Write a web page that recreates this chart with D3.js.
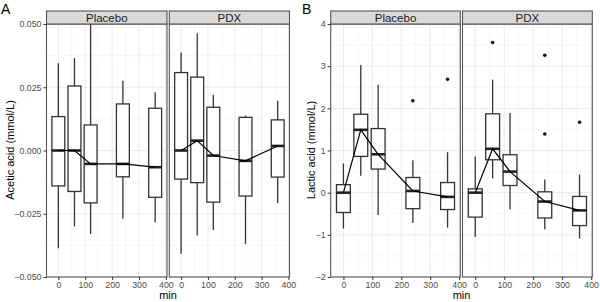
<!DOCTYPE html>
<html><head><meta charset="utf-8">
<script src="https://cdn.jsdelivr.net/npm/d3@7/dist/d3.min.js"></script>
<style>body{margin:0;background:#fff}svg{display:block;font-family:"Liberation Sans",Arial,sans-serif}</style>
</head><body><svg id="c" width="600" height="302"></svg>
<script>
const times = [0, 60, 120, 240, 360];
const groups = ["Placebo", "PDX"];
const xTicks = [0, 100, 200, 300, 400];

// Acetic acid
const aceticPlaceboLow  = [-0.0386, -0.030, -0.033, -0.027, -0.0285];
const aceticPlaceboQ1   = [-0.014, -0.0162, -0.0207, -0.0104, -0.0185];
const aceticPlaceboMed  = [0, 0, -0.0053, -0.0053, -0.0066];
const aceticPlaceboQ3   = [0.0134, 0.0255, 0.0101, 0.0184, 0.0167];
const aceticPlaceboHigh = [0.0345, 0.0365, 0.050, 0.0276, 0.023];
const aceticPdxLow  = [-0.0408, -0.0336, -0.0314, -0.037, -0.0208];
const aceticPdxQ1   = [-0.0113, -0.0127, -0.0204, -0.018, -0.0105];
const aceticPdxMed  = [0, 0.0039, -0.002, -0.0041, 0.0018];
const aceticPdxQ3   = [0.0308, 0.029, 0.0171, 0.0131, 0.0121];
const aceticPdxHigh = [0.0387, 0.0463, 0.022, 0.0138, 0.0197];
const aceticYTicks = [-0.050, -0.025, 0.000, 0.025, 0.050];

// Lactic acid
const lacticPlaceboLow  = [-0.85, 0.40, -0.53, -0.72, -0.83];
const lacticPlaceboQ1   = [-0.47, 0.86, 0.56, -0.38, -0.40];
const lacticPlaceboMed  = [0, 1.49, 0.91, 0.04, -0.10];
const lacticPlaceboQ3   = [0.19, 1.86, 1.52, 0.36, 0.24];
const lacticPlaceboHigh = [0.69, 3.03, 2.56, 0.77, 0.96];
const lacticPlaceboOutT = [240, 360];
const lacticPlaceboOutV = [2.18, 2.69];
const lacticPdxLow  = [-1.05, 0.34, -0.40, -0.87, -1.09];
const lacticPdxQ1   = [-0.58, 0.78, 0.17, -0.60, -0.78];
const lacticPdxMed  = [0, 1.04, 0.50, -0.21, -0.42];
const lacticPdxQ3   = [0.09, 1.87, 0.90, 0.02, -0.09];
const lacticPdxHigh = [0.86, 2.68, 1.89, 0.31, 0.43];
const lacticPdxOutT = [60, 240, 240, 360];
const lacticPdxOutV = [3.56, 3.26, 1.39, 1.67];
const lacticYTicks = [-2, -1, 0, 1, 2, 3, 4];

function build(low, q1, med, q3, high, outT, outV) {
  return {
    boxes: times.map((t, i) => ({t, low: low[i], q1: q1[i], med: med[i], q3: q3[i], high: high[i]})),
    outliers: (outT || []).map((t, i) => ({t, v: outV[i]}))
  };
}

const svg = d3.select("#c");
const FONT = '"Liberation Sans",Arial,sans-serif';

function drawChart(cfg) {
  const y = d3.scaleLinear().domain(cfg.yDomain).range([277, 24]);
  const g = svg.append("g");
  cfg.facets.forEach((f, fi) => {
    const x = d3.scaleLinear().domain([-44, 404]).range([f.x0, f.x1]);
    const pg = g.append("g");
    pg.append("rect").attr("x", f.x0).attr("y", 24).attr("width", f.x1 - f.x0).attr("height", 253).attr("fill", "#fff");
    cfg.yMinor.forEach(v => pg.append("line").attr("x1", f.x0).attr("x2", f.x1).attr("y1", y(v)).attr("y2", y(v)).attr("stroke", "#f2f2f2").attr("stroke-width", 0.6));
    [50, 150, 250, 350].forEach(v => pg.append("line").attr("x1", x(v)).attr("x2", x(v)).attr("y1", 24).attr("y2", 277).attr("stroke", "#f2f2f2").attr("stroke-width", 0.6));
    cfg.yTicks.forEach(v => pg.append("line").attr("x1", f.x0).attr("x2", f.x1).attr("y1", y(v)).attr("y2", y(v)).attr("stroke", "#ebebeb").attr("stroke-width", 1));
    xTicks.forEach(v => pg.append("line").attr("x1", x(v)).attr("x2", x(v)).attr("y1", 24).attr("y2", 277).attr("stroke", "#ebebeb").attr("stroke-width", 1));

    const d = f.data;
    const bw = 48;
    const bx = pg.selectAll(".bx").data(d.boxes).enter().append("g");
    bx.append("line").attr("x1", b => x(b.t)).attr("x2", b => x(b.t)).attr("y1", b => y(b.high)).attr("y2", b => y(b.q3)).attr("stroke", "#333").attr("stroke-width", 1.3);
    bx.append("line").attr("x1", b => x(b.t)).attr("x2", b => x(b.t)).attr("y1", b => y(b.q1)).attr("y2", b => y(b.low)).attr("stroke", "#333").attr("stroke-width", 1.3);
    bx.append("rect").attr("x", b => x(b.t - bw / 2)).attr("width", b => x(b.t + bw / 2) - x(b.t - bw / 2))
      .attr("y", b => y(b.q3)).attr("height", b => y(b.q1) - y(b.q3))
      .attr("fill", "#fff").attr("stroke", "#333").attr("stroke-width", 1.3);
    bx.append("line").attr("x1", b => x(b.t - bw / 2)).attr("x2", b => x(b.t + bw / 2)).attr("y1", b => y(b.med)).attr("y2", b => y(b.med)).attr("stroke", "#222").attr("stroke-width", 2.6);
    pg.selectAll(".out").data(d.outliers).enter().append("circle").attr("cx", o => x(o.t)).attr("cy", o => y(o.v)).attr("r", 1.8).attr("fill", "#111");
    pg.append("path").datum(d.boxes).attr("d", d3.line().x(b => x(b.t)).y(b => y(b.med)))
      .attr("fill", "none").attr("stroke", "#000").attr("stroke-width", 1.2);
    pg.append("rect").attr("x", f.x0).attr("y", 24).attr("width", f.x1 - f.x0).attr("height", 253).attr("fill", "none").attr("stroke", "#555").attr("stroke-width", 1.1);
    pg.append("rect").attr("x", f.x0).attr("y", 11).attr("width", f.x1 - f.x0).attr("height", 13).attr("fill", "#d9d9d9").attr("stroke", "#555").attr("stroke-width", 1.1);
    pg.append("text").attr("x", (f.x0 + f.x1) / 2).attr("y", 21.8).attr("text-anchor", "middle").attr("font-size", 11.5).attr("fill", "#1a1a1a").text(groups[fi]);
    const xa = pg.append("g").attr("transform", "translate(0,277)")
      .call(d3.axisBottom(x).tickValues(xTicks).tickSize(3).tickPadding(2).tickFormat(d3.format("d")));
    xa.select(".domain").remove();
    xa.selectAll("line").attr("stroke", "#333");
    xa.selectAll("text").attr("fill", "#4d4d4d").attr("font-size", 8.8).attr("font-family", FONT);
  });
  const ya = g.append("g").attr("transform", `translate(${cfg.facets[0].x0},0)`)
    .call(d3.axisLeft(y).tickValues(cfg.yTicks).tickSize(3).tickPadding(2).tickFormat(cfg.fmt));
  ya.select(".domain").remove();
  ya.selectAll("line").attr("stroke", "#333");
  ya.selectAll("text").attr("fill", "#4d4d4d").attr("font-size", 8.8).attr("font-family", FONT);
  g.append("text").attr("transform", `translate(${cfg.ylabX},150) rotate(-90)`).attr("text-anchor", "middle")
    .attr("font-size", 11).attr("fill", "#000").text(cfg.ylabel);
  const mid = (cfg.facets[0].x0 + cfg.facets[1].x1) / 2;
  g.append("text").attr("x", mid).attr("y", 299).attr("text-anchor", "middle").attr("font-size", 11).attr("fill", "#000").text("min");
  g.append("text").attr("x", cfg.letterX).attr("y", 14).attr("font-size", 14).attr("fill", "#000").text(cfg.letter);
}

drawChart({
  letter: "A", letterX: 1,
  yDomain: [-0.05, 0.05], yTicks: aceticYTicks, yMinor: [-0.0375, -0.0125, 0.0125, 0.0375],
  fmt: d3.format(".3f"), ylabel: "Acetic acid (mmol/L)", ylabX: 13.5,
  facets: [
    {x0: 46.5, x1: 167, data: build(aceticPlaceboLow, aceticPlaceboQ1, aceticPlaceboMed, aceticPlaceboQ3, aceticPlaceboHigh)},
    {x0: 169.3, x1: 289.5, data: build(aceticPdxLow, aceticPdxQ1, aceticPdxMed, aceticPdxQ3, aceticPdxHigh)}
  ]
});
drawChart({
  letter: "B", letterX: 302,
  yDomain: [-2, 4], yTicks: lacticYTicks, yMinor: [-1.5, -0.5, 0.5, 1.5, 2.5, 3.5],
  fmt: d3.format("d"), ylabel: "Lactic acid (mmol/L)", ylabX: 315,
  facets: [
    {x0: 330.7, x1: 460.3, data: build(lacticPlaceboLow, lacticPlaceboQ1, lacticPlaceboMed, lacticPlaceboQ3, lacticPlaceboHigh, lacticPlaceboOutT, lacticPlaceboOutV)},
    {x0: 462.5, x1: 592.3, data: build(lacticPdxLow, lacticPdxQ1, lacticPdxMed, lacticPdxQ3, lacticPdxHigh, lacticPdxOutT, lacticPdxOutV)}
  ]
});
</script></body></html>
